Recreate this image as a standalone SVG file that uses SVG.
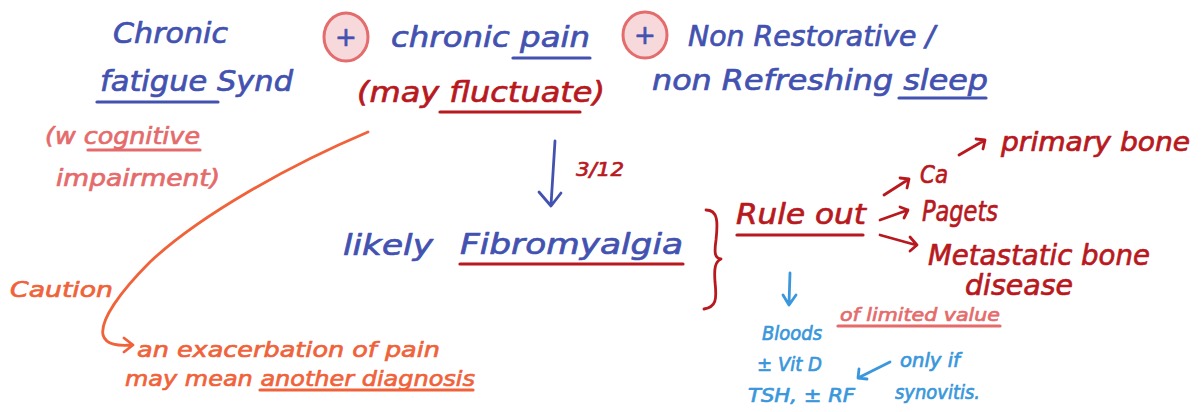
<svg xmlns="http://www.w3.org/2000/svg" width="1204" height="412" viewBox="0 0 1204 412">
<style>
text{font-family:"DejaVu Sans","Liberation Sans",sans-serif;font-style:oblique;stroke-width:0.7;stroke-linejoin:round}
.b{fill:#4352b0;stroke:#4352b0;font-size:28px}
.r{fill:#b8191e;stroke:#b8191e;font-size:28px}
.p{fill:#e56b6b;stroke:#e56b6b;font-size:23px}
.o{fill:#f0623a;stroke:#f0623a;font-size:22px}
.lb{fill:#3a97dc;stroke:#3a97dc;font-size:19px}
.ul{fill:none;stroke-width:3.2;stroke-linecap:round}
.con{fill:none;stroke-width:2.8;stroke-linecap:round;stroke-linejoin:round}
.plus{fill:#f7d9dc;stroke:#e46c6c;stroke-width:3}
</style>
<rect width="1204" height="412" fill="#ffffff"/>
<g id="chronic-fatigue">
<text class="b" x="113" y="43" textLength="115" lengthAdjust="spacingAndGlyphs">Chronic</text>
<text class="b" x="100" y="91" textLength="193" lengthAdjust="spacingAndGlyphs">fatigue Synd</text>
<line class="ul" x1="97" y1="102" x2="218" y2="102" stroke="#4352b0"/>
</g>
<g id="cognitive">
<text class="p" x="45" y="144" textLength="155" lengthAdjust="spacingAndGlyphs">(w cognitive</text>
<line class="ul" x1="88" y1="150" x2="200" y2="150" stroke="#e56b6b" stroke-width="2.2"/>
<text class="p" x="56" y="186" textLength="164" lengthAdjust="spacingAndGlyphs">impairment)</text>
</g>
<g id="plus1">
<ellipse class="plus" cx="346" cy="37" rx="22" ry="24"/>
<text x="346" y="46" text-anchor="middle" style="fill:#4352b0;stroke:#4352b0;font-size:26px">+</text>
</g>
<g id="chronic-pain">
<text class="b" x="391" y="47" textLength="199" lengthAdjust="spacingAndGlyphs">chronic pain</text>
<line class="ul" x1="513" y1="58" x2="590" y2="58" stroke="#4352b0"/>
<text class="r" x="357" y="102" textLength="248" lengthAdjust="spacingAndGlyphs">(may fluctuate)</text>
<line class="ul" x1="440" y1="112" x2="580" y2="112" stroke="#b8191e"/>
</g>
<g id="plus2">
<ellipse class="plus" cx="645" cy="35" rx="22" ry="23"/>
<text x="645" y="44" text-anchor="middle" style="fill:#4352b0;stroke:#4352b0;font-size:26px">+</text>
</g>
<g id="sleep">
<text class="b" x="688" y="46" textLength="247" lengthAdjust="spacingAndGlyphs">Non Restorative /</text>
<text class="b" x="652" y="90" textLength="336" lengthAdjust="spacingAndGlyphs">non Refreshing sleep</text>
<line class="ul" x1="899" y1="98" x2="986" y2="98" stroke="#4352b0"/>
</g>
<g id="duration">
<text class="r" x="576" y="176" style="font-size:20px" textLength="48" lengthAdjust="spacingAndGlyphs">3/12</text>
</g>
<g id="fibromyalgia">
<text class="b" x="343" y="255" textLength="90" lengthAdjust="spacingAndGlyphs">likely</text>
<text class="b" x="460" y="254" textLength="223" lengthAdjust="spacingAndGlyphs">Fibromyalgia</text>
<line class="ul" x1="460" y1="264" x2="683" y2="264" stroke="#b8191e"/>
</g>
<g id="rule-out">
<text class="r" x="736" y="224" textLength="130" lengthAdjust="spacingAndGlyphs">Rule out</text>
<line class="ul" x1="737" y1="235" x2="863" y2="235" stroke="#b8191e"/>
</g>
<g id="ca">
<text class="r" x="920" y="183" style="font-size:24px" textLength="28" lengthAdjust="spacingAndGlyphs">Ca</text>
</g>
<g id="primary-bone">
<text class="r" x="1001" y="151" style="font-size:26px" textLength="189" lengthAdjust="spacingAndGlyphs">primary bone</text>
</g>
<g id="pagets">
<text class="r" x="922" y="221" textLength="76" lengthAdjust="spacingAndGlyphs">Pagets</text>
</g>
<g id="metastatic">
<text class="r" x="928" y="265" textLength="222" lengthAdjust="spacingAndGlyphs">Metastatic bone</text>
<text class="r" x="965" y="295" textLength="108" lengthAdjust="spacingAndGlyphs">disease</text>
</g>
<g id="bloods">
<text class="lb" x="762" y="340" textLength="60" lengthAdjust="spacingAndGlyphs">Bloods</text>
<text class="lb" x="757" y="371" textLength="65" lengthAdjust="spacingAndGlyphs">± Vit D</text>
<text class="lb" x="748" y="402" textLength="107" lengthAdjust="spacingAndGlyphs">TSH, ± RF</text>
</g>
<g id="limited-value">
<text class="p" x="840" y="321" style="font-size:18px" textLength="160" lengthAdjust="spacingAndGlyphs">of limited value</text>
<line class="ul" x1="838" y1="326" x2="1000" y2="326" stroke="#e56b6b" stroke-width="2.2"/>
</g>
<g id="synovitis">
<text class="lb" x="900" y="367" textLength="60" lengthAdjust="spacingAndGlyphs">only if</text>
<text class="lb" x="895" y="399" textLength="85" lengthAdjust="spacingAndGlyphs">synovitis.</text>
</g>
<g id="caution">
<text class="o" x="10" y="297" textLength="103" lengthAdjust="spacingAndGlyphs">Caution</text>
</g>
<g id="exacerbation">
<text class="o" x="137" y="357" textLength="303" lengthAdjust="spacingAndGlyphs">an exacerbation of pain</text>
<text class="o" x="125" y="386" textLength="350" lengthAdjust="spacingAndGlyphs">may mean another diagnosis</text>
<line class="ul" x1="260" y1="390" x2="473" y2="390" stroke="#f0623a" stroke-width="2.2"/>
</g>
<g id="connectors">
<path class="con" stroke="#4352b0" d="M555 141 L551 205 M539 192 L551 206 L561 193"/>
<path class="con" stroke="#b8191e" d="M706 210 C718 210 718 222 716 240 C714 254 715 258 721 259 C715 262 714 268 715 282 C717 300 716 307 704 309"/>
<path class="con" stroke="#b8191e" d="M884 195 L909 179 M900 178 L909 179 L907 188"/>
<path class="con" stroke="#b8191e" d="M959 155 L985 140 M976 139 L985 140 L983 149"/>
<path class="con" stroke="#b8191e" d="M880 220 L908 210 M900 207 L908 210 L904 218"/>
<path class="con" stroke="#b8191e" d="M880 235 L916 245 M910 237 L917 245 L910 251"/>
<path class="con" stroke="#3a97dc" d="M790 273 L789 304 M783 295 L789 305 L796 295"/>
<path class="con" stroke="#3a97dc" d="M890 362 L858 378 M859 369 L858 378 L867 379"/>
<path class="con" stroke="#f0623a" d="M368 132 C290 165 200 215 150 262 C120 292 100 320 103 335 C106 345 118 346 132 345 M124 338 L133 345 L124 352"/>
</g>
</svg>
